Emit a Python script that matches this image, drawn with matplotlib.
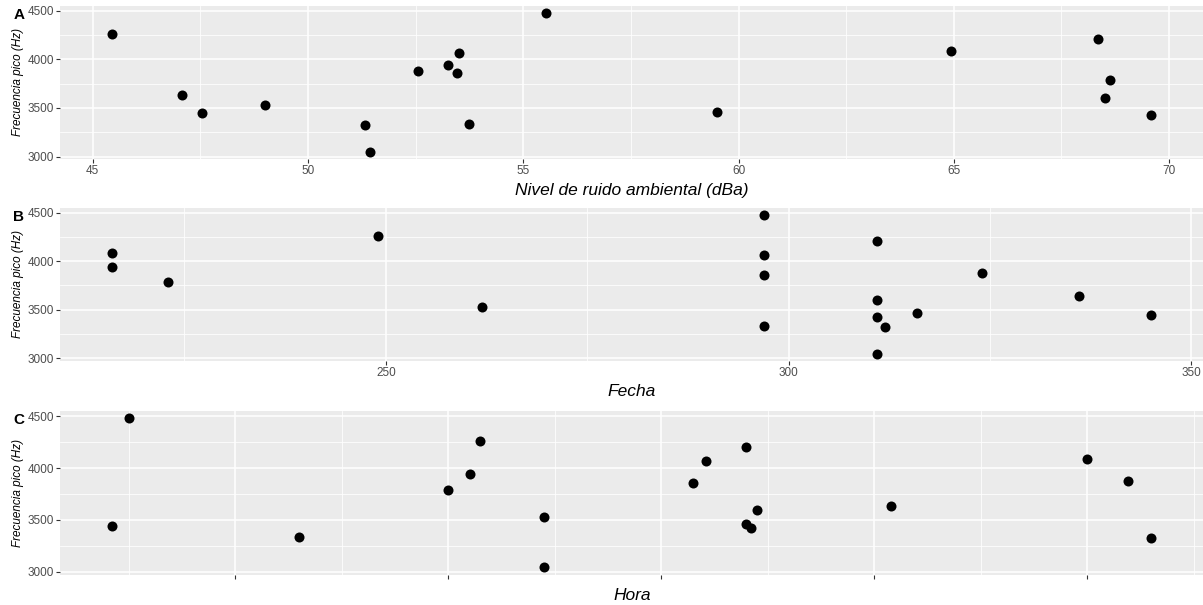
import matplotlib
matplotlib.use('Agg')
import matplotlib.pyplot as plt
import numpy as np

plt.rcParams['font.family'] = ['Liberation Sans', 'DejaVu Sans']

# one row per recording
ruido = [45.45, 47.08, 47.54, 49.01, 51.32, 51.44, 52.55, 53.26, 53.50,
         53.47, 53.73, 55.54, 59.49, 64.94, 68.35, 68.63, 68.50, 69.58]
fecha = [249, 336, 345, 262, 312, 311, 324, 216, 297,
         297, 297, 297, 316, 216, 311, 223, 311, 311]
hora = [8.15, 10.08, 6.42, 8.45, 11.30, 8.45, 11.19, 8.10, 9.21,
        9.15, 7.30, 6.50, 9.40, 11.00, 9.40, 8.00, 9.45, 9.42]
frecuencia = [4258, 3636, 3445, 3530, 3323, 3046, 3876, 3940, 4066,
              3858, 3335, 4478, 3462, 4084, 4205, 3789, 3600, 3426]

ruido_ticks = [45, 50, 55, 60, 65, 70]
fecha_ticks = [250, 300, 350]
hora_ticks = [7, 8, 9, 10, 11]
frec_ticks = [3000, 3500, 4000, 4500]

W, H = 1203, 605
fig = plt.figure(figsize=(W / 100, H / 100), dpi=100)


def expand(v, f=0.05):
    lo, hi = min(v), max(v)
    r = hi - lo
    return lo - f * r, hi + f * r


def panel(top, bottom, x, xticks, letter, xlabel, label_y, show_xlabels=True):
    ax = fig.add_axes([60 / W, 1 - bottom / H, 1 - 60 / W, (bottom - top) / H])
    ax.set_facecolor('#EBEBEB')
    for s in ax.spines.values():
        s.set_visible(False)
    ax.scatter(x, frecuencia, s=52, color='black', zorder=3, linewidths=0)
    ax.set_xticks(xticks)
    step = xticks[1] - xticks[0]
    ax.set_xticks([t - step / 2 for t in xticks] + [xticks[-1] + step / 2], minor=True)
    ax.set_yticks(frec_ticks)
    ax.set_yticks([3250, 3750, 4250], minor=True)
    ax.set_xlim(*expand(x))
    ax.set_ylim(*expand(frecuencia))
    if not show_xlabels:
        ax.set_xticklabels([])
    ax.grid(which='major', color='white', linewidth=1.1, zorder=0)
    ax.grid(which='minor', color='white', linewidth=0.55, zorder=0)
    ax.set_axisbelow(True)
    ax.tick_params(which='major', length=3, width=0.8, color='#333333',
                   labelsize=8.5, labelcolor='#4D4D4D', pad=1.5)
    ax.tick_params(which='minor', length=0)
    fig.text(18 / W, 1 - (top + bottom) / 2 / H, 'Frecuencia pico (Hz)',
             rotation=90, ha='center', va='center', fontsize=8.5, style='italic')
    fig.text(19 / W, 1 - (top + 9) / H, letter, ha='center', va='center',
             fontsize=11, fontweight='bold')
    fig.text(632 / W, 1 - label_y / H, xlabel, ha='center', va='center',
             fontsize=12.5, style='italic')
    return ax


panel(6, 159, ruido, ruido_ticks, 'A', 'Nivel de ruido ambiental (dBa)', 190)
panel(208, 360.5, fecha, fecha_ticks, 'B', 'Fecha', 392)
panel(411, 574.5, hora, hora_ticks, 'C', 'Hora', 595, show_xlabels=False)

fig.savefig('out.png', dpi=100)
